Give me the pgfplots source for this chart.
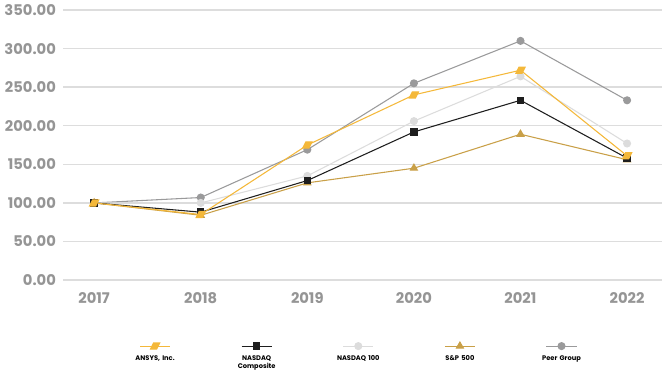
\documentclass[border=0pt]{standalone}
\usepackage{pgfplots}
\pgfplotsset{compat=1.18}
\usepackage{fontspec}
\setmainfont{Poppins}
\definecolor{ansys}{HTML}{F4B83A}
\definecolor{comp}{HTML}{1E1E1E}
\definecolor{nq}{HTML}{DCDCDC}
\definecolor{sp}{HTML}{C9A048}
\definecolor{peer}{HTML}{9A9A9B}
\definecolor{tick}{HTML}{959595}
\definecolor{gridc}{HTML}{DDDDDD}
\begin{document}
\begin{tikzpicture}
\begin{axis}[
  scale only axis,
  width=448pt, height=202pt,
  xmin=2016.71, xmax=2022.33,
  ymin=0, ymax=350,
  ytick={0,50,...,350},
  xtick={2017,...,2022},
  xticklabels={2017,2018,2019,2020,2021,2022},
  ymajorgrids,
  grid style={color=gridc, line width=1.1pt},
  axis line style={draw=none},
  major tick length=0pt,
  /pgf/number format/assume math mode=true,
  yticklabel style={/pgf/number format/fixed, /pgf/number format/fixed zerofill, /pgf/number format/precision=2, xshift=-2pt},
  ticklabel style={font=\fontsize{11}{13}\selectfont\bfseries, text=tick},
  xticklabel style={yshift=-6pt},
  every axis plot/.append style={line width=0.8pt},
  legend columns=5,
  reverse legend,
  legend style={at={(axis description cs:0.068,-0.28)}, anchor=north west,
    draw=none, fill=none, inner sep=0pt, /tikz/column sep=0pt,
    nodes={inner sep=0pt, text width=76pt, align=center, text depth=7.5pt,
      font=\fontsize{5}{5.5}\selectfont\bfseries}},
  legend image code/.code={
    \draw[overlay, mark repeat=2, mark phase=2, #1] plot coordinates {(26.75pt,13pt) (38pt,13pt) (49.25pt,13pt)};
  },
]
\addplot[color=peer, mark=*, mark size=2.6pt] coordinates {(2017,100) (2018,107) (2019,169) (2020,255) (2021,310) (2022,233)};
\addlegendentry{Peer Group}
\addplot[color=sp, mark=triangle*, mark size=3pt] coordinates {(2017,100) (2018,84) (2019,126) (2020,145) (2021,189) (2022,156)};
\addlegendentry{S\&P 500}
\addplot[color=nq, mark=*, mark size=2.6pt] coordinates {(2017,100) (2018,100) (2019,135) (2020,206) (2021,264) (2022,177)};
\addlegendentry{NASDAQ 100}
\addplot[color=comp, mark=square*, mark size=2.4pt] coordinates {(2017,100) (2018,88) (2019,129) (2020,192) (2021,233) (2022,158)};
\addlegendentry{NASDAQ\\Composite}
\addplot[color=ansys, mark=square*, mark size=2.3pt, mark options={xslant=0.5}] coordinates {(2017,100) (2018,85) (2019,175) (2020,240) (2021,272) (2022,161)};
\addlegendentry{ANSYS, Inc.}
\end{axis}
\end{tikzpicture}
\end{document}
